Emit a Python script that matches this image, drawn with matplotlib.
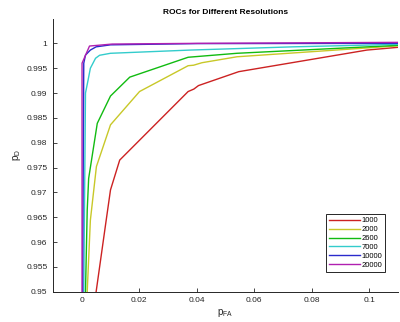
import numpy as np
import matplotlib
matplotlib.use("Agg")
import matplotlib.pyplot as plt

# -----------------------------
# ROC data
# -----------------------------

labels = ["1000", "2000", "2600", "7000", "10000", "20000"]
colors = ["#cc2222", "#c8c828", "#11bb11", "#33cccc", "#2a2acc", "#b020b0"]

pfa_1000 = [0.0050, 0.0085, 0.0100, 0.0132, 0.0370, 0.0390, 0.0406, 0.0546, 0.0992, 0.110]
pd_1000 = [0.9500, 0.9644, 0.9705, 0.9765, 0.9903, 0.9908, 0.9915, 0.9943, 0.99865, 0.9992]

pfa_2000 = [0.0019, 0.0030, 0.0051, 0.0100, 0.0201, 0.0370, 0.0389, 0.0418, 0.0540, 0.110]
pd_2000 = [0.9500, 0.9644, 0.9752, 0.9836, 0.9903, 0.9955, 0.9956, 0.9961, 0.9973, 0.9995]

pfa_2600 = [0.0013, 0.0019, 0.0024, 0.0054, 0.0100, 0.0167, 0.0370, 0.0540, 0.110]
pd_2600 = [0.9500, 0.9664, 0.9728, 0.9839, 0.9894, 0.9932, 0.9972, 0.9980, 0.9996]

pfa_7000 = [0.0007, 0.0013, 0.0022, 0.0030, 0.0048, 0.0062, 0.0100, 0.0378, 0.0736, 0.110]
pd_7000 = [0.9500, 0.9900, 0.9926, 0.9950, 0.9970, 0.9976, 0.9980, 0.99865, 0.9993, 0.9998]

pfa_10000 = [0.0003, 0.0007, 0.0013, 0.0030, 0.0050, 0.0100, 0.0400, 0.110]
pd_10000 = [0.9500, 0.9960, 0.99764, 0.99865, 0.9993, 0.9997, 0.99995, 1.0000]

pfa_20000 = [0.0001, 0.0001, 0.0027, 0.0106, 0.0400, 0.110]
pd_20000 = [0.9500, 0.9960, 0.99946, 0.99986, 1.0000, 1.0002]

curves = [
    (pfa_1000, pd_1000),
    (pfa_2000, pd_2000),
    (pfa_2600, pd_2600),
    (pfa_7000, pd_7000),
    (pfa_10000, pd_10000),
    (pfa_20000, pd_20000),
]

xticks = [0, 0.02, 0.04, 0.06, 0.08, 0.1]
xticklabels = ["0", "0.02", "0.04", "0.06", "0.08", "0.1"]
yticks = [0.95, 0.955, 0.96, 0.965, 0.97, 0.975, 0.98, 0.985, 0.99, 0.995, 1.0]
yticklabels = ["0.95", "0.955", "0.96", "0.965", "0.97", "0.975", "0.98",
               "0.985", "0.99", "0.995", "1"]

# -----------------------------
# Plot
# -----------------------------

plt.rcParams["font.family"] = ["Liberation Sans", "DejaVu Sans"]

fig = plt.figure(figsize=(4.0, 3.22), dpi=100)
ax = fig.add_axes([0.1325, 0.094, 0.8625, 0.8485])

for (x, y), lab, c in zip(curves, labels, colors):
    ax.plot(x, y, color=c, lw=1.0, label=lab)

ax.set_xlim(-0.01, 0.11)
ax.set_ylim(0.95, 1.005)
ax.set_xticks(xticks)
ax.set_xticklabels(xticklabels)
ax.set_yticks(yticks)
ax.set_yticklabels(yticklabels)

for s in ["top", "right"]:
    ax.spines[s].set_visible(False)
for s in ["left", "bottom"]:
    ax.spines[s].set_color("#262626")
    ax.spines[s].set_linewidth(0.7)

ax.tick_params(direction="in", length=3, width=0.6, labelsize=6,
               colors="#262626", labelcolor="#262626", pad=4)

ax.set_title("ROCs for Different Resolutions", fontsize=6, fontweight="bold", pad=3)
ax.set_xlabel(r"p$_\mathregular{FA}$", fontsize=7, color="#262626", labelpad=2)
ax.set_ylabel(r"p$_\mathregular{D}$", fontsize=7, color="#262626")
ax.yaxis.set_label_coords(-0.087, 0.5)

leg = ax.legend(loc="lower right", bbox_to_anchor=(0.974, 0.0586), fontsize=5.5,
                handlelength=4.0, handletextpad=0.2, labelspacing=0.2,
                borderpad=0.4, fancybox=False, framealpha=1, edgecolor="#262626")
leg.get_frame().set_linewidth(0.7)

fig.savefig("out.png", dpi=100)
